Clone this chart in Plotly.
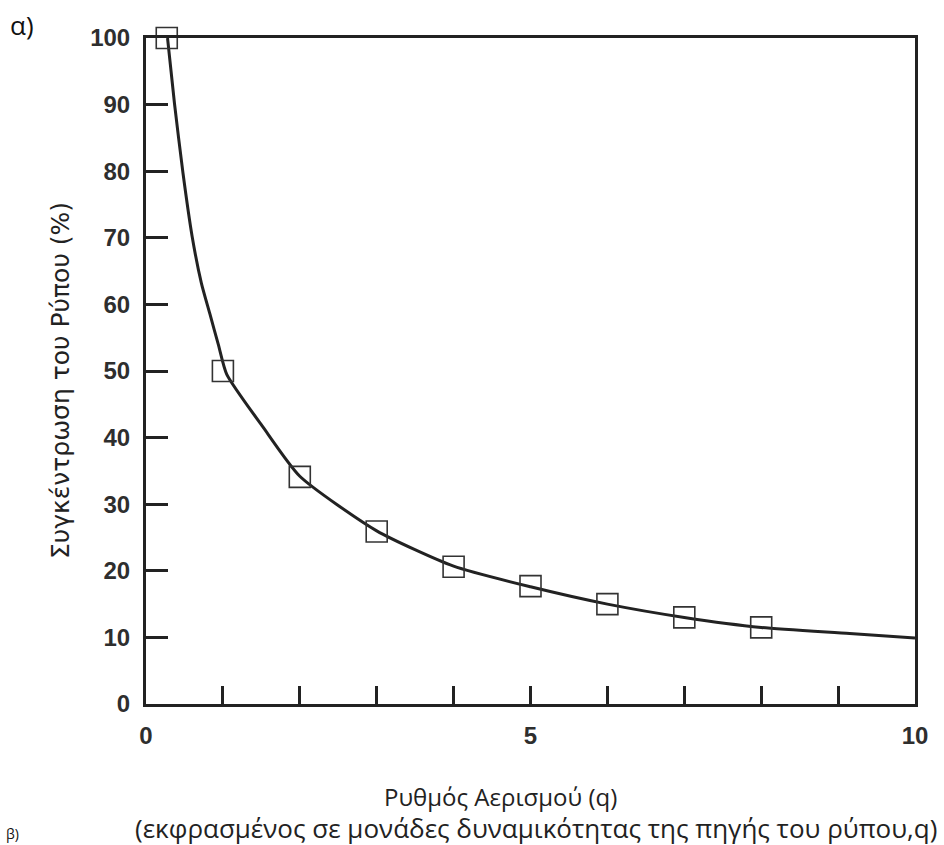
import plotly.graph_objects as go

# Data
curve_q = [0.28, 0.37, 0.48, 0.60, 0.72, 0.83, 0.94, 1.05, 1.52, 2.0, 3.0, 4.0, 5.0, 6.0, 7.0, 8.0, 9.15, 10.0]
curve_c = [100, 90.2, 79.8, 70.2, 63.2, 58.6, 54.0, 49.5, 41.6, 34.2, 26.0, 20.7, 17.6, 15.0, 13.0, 11.5, 10.6, 9.9]
point_q = [0.27, 1, 2, 3, 4, 5, 6, 7, 8]
point_c = [100, 50.0, 34.1, 25.9, 20.6, 17.7, 15.0, 13.0, 11.5]
x_tickvals = [0, 1, 2, 3, 4, 5, 6, 7, 8, 9, 10]
x_ticktext = ["0", "", "", "", "", "5", "", "", "", "", "10"]
y_tickvals = [0, 10, 20, 30, 40, 50, 60, 70, 80, 90, 100]

y_title = "Συγκέντρωση του Ρύπου (%)"
x_title1 = "Ρυθμός Αερισμού (q)"
x_title2 = "(εκφρασμένος σε μονάδες δυναμικότητας της πηγής του ρύπου,q)"

W, H = 944, 845
L, R, T, B = 146, 29, 38, 141
pw, ph = W - L - R, H - T - B

def px(x):
    return (x - L) / pw

def py(y):
    return (H - B - y) / ph

fig = go.Figure()
fig.add_trace(go.Scatter(x=curve_q, y=curve_c, mode="lines",
                         line=dict(color="#222222", width=3, shape="spline", smoothing=0.6),
                         hoverinfo="skip"))
fig.add_trace(go.Scatter(x=point_q, y=point_c, mode="markers",
                         marker=dict(symbol="square-open", size=21,
                                     line=dict(color="#333333", width=1.6),
                                     color="#333333"),
                         cliponaxis=False))

tickfont = dict(family="Liberation Sans, Arial", size=24, color="#2e2e2e", weight="bold")
fig.update_xaxes(range=[0, 10], tickvals=x_tickvals, ticktext=x_ticktext,
                 ticks="inside", ticklen=18, tickwidth=3, tickcolor="#222222",
                 showline=True, linewidth=3, linecolor="#222222", mirror=True,
                 showgrid=False, zeroline=False, tickfont=tickfont,
                 ticklabelstandoff=8)
fig.update_yaxes(range=[0, 100], tickvals=y_tickvals,
                 ticks="inside", ticklen=22, tickwidth=3, tickcolor="#222222",
                 showline=True, linewidth=3, linecolor="#222222", mirror=True,
                 showgrid=False, zeroline=False, tickfont=tickfont,
                 ticklabelstandoff=8)

yfont = dict(family="DejaVu Sans", size=25, color="#222222")
x1font = dict(family="Open Sans, Noto Sans", size=24, color="#222222")
x2font = dict(family="Open Sans, Noto Sans", size=26, color="#222222")
lfont = dict(family="Open Sans, Noto Sans", size=26, color="#111111")
ann = [
    dict(text=y_title, x=px(60), y=py(381), textangle=-90, font=yfont),
    dict(text=x_title1, x=px(500), y=py(797), font=x1font),
    dict(text=x_title2, x=px(536), y=py(828), font=x2font),
    dict(text="α)", x=px(22), y=py(25), font=lfont),
    dict(text="β)", x=px(12), y=py(845), yanchor="bottom", font=dict(family="Open Sans, Noto Sans", size=14, color="#111111")),
]
for a in ann:
    a.update(xref="paper", yref="paper", showarrow=False)
    a.setdefault("xanchor", "center")
    a.setdefault("yanchor", "middle")
fig.update_layout(annotations=ann)

fig.update_layout(width=W, height=H, margin=dict(l=L, r=R, t=T, b=B),
                  paper_bgcolor="white", plot_bgcolor="white", showlegend=False)

fig.write_html("out.html")
